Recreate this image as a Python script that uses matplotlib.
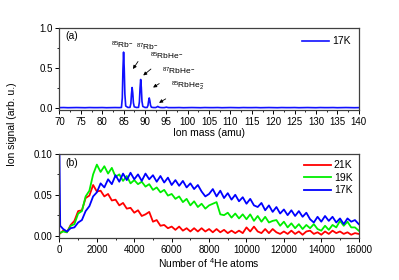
import matplotlib
matplotlib.use("Agg")
import matplotlib.pyplot as plt
import numpy as np

plt.rcParams['font.family'] = ['Liberation Sans', 'DejaVu Sans']
plt.rcParams['mathtext.fontset'] = 'custom'
plt.rcParams['mathtext.rm'] = 'Liberation Sans'
plt.rcParams['mathtext.it'] = 'Liberation Sans'
plt.rcParams['font.size'] = 7

# panel (a): mass spectrum at 17K
mass = [70, 71, 72, 73, 74, 75, 76, 77, 78, 79, 80, 81, 82, 83, 84,
        84.5, 84.7, 84.85, 85, 85.15, 85.3, 85.5, 86,
        86.5, 86.7, 86.85, 87, 87.15, 87.3, 87.5, 88,
        88.5, 88.7, 88.85, 89, 89.15, 89.3, 89.5, 90,
        90.5, 90.7, 90.85, 91, 91.15, 91.3, 91.5, 92,
        92.5, 92.8, 93, 93.2, 93.5, 94,
        94.5, 94.8, 95, 95.2, 95.5, 96,
        97, 98, 99, 100, 101, 102, 103, 104, 105, 106, 107, 108, 109, 110,
        111, 112, 113, 114, 115, 116, 117, 118, 119, 120, 121, 122, 123, 124, 125,
        126, 127, 128, 129, 130, 131, 132, 133, 134, 135, 136, 137, 138, 139, 140]
signal = [0.010, 0.011, 0.009, 0.010, 0.011, 0.010, 0.009, 0.011, 0.010, 0.010, 0.011, 0.009, 0.010, 0.011, 0.010,
          0.012, 0.13, 0.48, 0.70, 0.50, 0.18, 0.03, 0.012,
          0.013, 0.06, 0.18, 0.26, 0.19, 0.07, 0.02, 0.012,
          0.013, 0.08, 0.25, 0.36, 0.26, 0.09, 0.025, 0.012,
          0.012, 0.035, 0.09, 0.13, 0.095, 0.04, 0.015, 0.011,
          0.011, 0.018, 0.025, 0.018, 0.012, 0.010,
          0.010, 0.013, 0.016, 0.013, 0.010, 0.010,
          0.010, 0.011, 0.009, 0.010, 0.011, 0.010, 0.009, 0.011, 0.010, 0.010, 0.011, 0.009, 0.010, 0.011,
          0.010, 0.009, 0.011, 0.010, 0.010, 0.011, 0.009, 0.010, 0.011, 0.010, 0.009, 0.011, 0.010, 0.010, 0.011,
          0.009, 0.010, 0.011, 0.010, 0.009, 0.011, 0.010, 0.010, 0.011, 0.009, 0.010, 0.011, 0.010, 0.009, 0.010]

peak_labels = [r'$^{85}$Rb$^{-}$', r'$^{87}$Rb$^{-}$', r'$^{85}$RbHe$^{-}$',
               r'$^{87}$RbHe$^{-}$', r'$^{85}$RbHe$_2^{-}$']

# panel (b): signal vs number of 4He atoms
atoms = np.arange(0, 16001, 200)
red_21k = [0.002, 0.006, 0.004, 0.013, 0.018, 0.030, 0.031, 0.046, 0.049, 0.062,
           0.054, 0.055, 0.048, 0.051, 0.043, 0.044, 0.037, 0.040, 0.033, 0.034,
           0.028, 0.031, 0.024, 0.026, 0.029, 0.017, 0.019, 0.012, 0.013, 0.009,
           0.011, 0.007, 0.011, 0.006, 0.009, 0.005, 0.009, 0.005, 0.009, 0.005,
           0.008, 0.004, 0.008, 0.004, 0.007, 0.003, 0.006, 0.003, 0.006, 0.003,
           0.010, 0.005, 0.011, 0.005, 0.003, 0.008, 0.003, 0.008, 0.004, 0.002,
           0.005, 0.002, 0.006, 0.002, 0.005, 0.001, 0.005, 0.006, 0.002, 0.004,
           0.001, 0.005, 0.002, 0.006, 0.003, 0.005, 0.002, 0.004, 0.001, 0.003,
           0.002]
green_19k = [0.003, 0.005, 0.004, 0.012, 0.014, 0.027, 0.030, 0.048, 0.055, 0.075,
             0.087, 0.078, 0.085, 0.076, 0.083, 0.072, 0.075, 0.067, 0.073, 0.064,
             0.068, 0.063, 0.066, 0.060, 0.063, 0.056, 0.059, 0.053, 0.056, 0.049,
             0.051, 0.045, 0.048, 0.041, 0.045, 0.037, 0.042, 0.035, 0.039, 0.033,
             0.037, 0.039, 0.041, 0.026, 0.025, 0.028, 0.022, 0.027, 0.021, 0.026,
             0.020, 0.026, 0.018, 0.024, 0.017, 0.023, 0.016, 0.018, 0.019, 0.012,
             0.017, 0.010, 0.015, 0.009, 0.014, 0.008, 0.013, 0.009, 0.014, 0.008,
             0.006, 0.012, 0.007, 0.013, 0.010, 0.018, 0.012, 0.017, 0.010, 0.010,
             0.006]
blue_atoms = np.concatenate([[0, 40], atoms[1:]])
blue_17k = [0.100, 0.012,
            0.008, 0.005, 0.009, 0.010, 0.016, 0.019, 0.030, 0.036, 0.048, 0.053,
            0.064, 0.059, 0.069, 0.063, 0.074, 0.066, 0.076, 0.068, 0.077, 0.069,
            0.075, 0.067, 0.076, 0.069, 0.074, 0.066, 0.073, 0.065, 0.071, 0.062,
            0.068, 0.061, 0.067, 0.059, 0.064, 0.057, 0.062, 0.054, 0.048, 0.051,
            0.057, 0.048, 0.055, 0.046, 0.052, 0.044, 0.050, 0.042, 0.047, 0.039,
            0.045, 0.037, 0.035, 0.040, 0.031, 0.037, 0.029, 0.035, 0.027, 0.032,
            0.025, 0.031, 0.024, 0.030, 0.023, 0.028, 0.020, 0.016, 0.023, 0.017,
            0.024, 0.018, 0.023, 0.016, 0.021, 0.014, 0.021, 0.017, 0.019, 0.014]

fig = plt.figure(figsize=(3.99, 2.8), dpi=100)
ax1 = fig.add_axes([0.149, 0.607, 0.75, 0.293])
ax2 = fig.add_axes([0.149, 0.15, 0.75, 0.30])

for ax in (ax1, ax2):
    for s in ax.spines.values():
        s.set_color('#404040')
        s.set_linewidth(0.9)
    ax.tick_params(which='major', length=3, width=0.7, pad=2, labelsize=7)
    ax.tick_params(which='minor', length=1.5, width=0.6)

# (a)
ax1.plot(mass, signal, color='#1010ff', lw=1.2, label='17K')
ax1.set_xlim(70, 140)
ax1.set_ylim(-0.02, 1.0)
ax1.set_xticks(np.arange(70, 141, 5))
ax1.set_xticks(np.arange(72.5, 140, 5), minor=True)
ax1.set_yticks([0.0, 0.5, 1.0])
ax1.set_yticks([0.25, 0.75], minor=True)
ax1.yaxis.set_major_formatter(matplotlib.ticker.FormatStrFormatter('%.1f'))
ax1.set_xlabel('Ion mass (amu)', fontsize=7.5, labelpad=1)
ax1.text(71.5, 0.9, '(a)', fontsize=7.5, va='center')

arrow = dict(arrowstyle='-|>', color='black', lw=0.6, mutation_scale=5, shrinkA=5, shrinkB=0)
ax1.text(84.7, 0.79, peak_labels[0], ha='center', va='center', fontsize=6)
ax1.annotate(peak_labels[1], xy=(87.2, 0.49), xytext=(90.6, 0.76), ha='center', va='center',
             fontsize=6, arrowprops=arrow)
ax1.annotate(peak_labels[2], xy=(89.6, 0.41), xytext=(95.0, 0.65), ha='center', va='center',
             fontsize=6, arrowprops=arrow)
ax1.annotate(peak_labels[3], xy=(91.9, 0.26), xytext=(97.8, 0.46), ha='center', va='center',
             fontsize=6, arrowprops=arrow)
ax1.annotate(peak_labels[4], xy=(93.3, 0.07), xytext=(100.0, 0.28), ha='center', va='center',
             fontsize=6, arrowprops=arrow)
ax1.legend(loc='upper right', frameon=False, fontsize=7.5, handlelength=2.6, handletextpad=0.3,
           borderaxespad=0.4)

# (b)
ax2.plot(atoms, red_21k, color='#ff0000', lw=1.3, label='21K')
ax2.plot(atoms, green_19k, color='#00ee00', lw=1.3, label='19K')
ax2.plot(blue_atoms, blue_17k, color='#0000ff', lw=1.3, label='17K')
ax2.set_xlim(0, 16000)
ax2.set_ylim(-0.003, 0.1)
ax2.set_xticks(np.arange(0, 16001, 2000))
ax2.set_xticks(np.arange(1000, 16000, 2000), minor=True)
ax2.set_yticks([0.0, 0.05, 0.10])
ax2.set_yticks([0.025, 0.075], minor=True)
ax2.yaxis.set_major_formatter(matplotlib.ticker.FormatStrFormatter('%.2f'))
ax2.set_xlabel(r'Number of $^{4}$He atoms', fontsize=7.5, labelpad=1)
ax2.text(300, 0.089, '(b)', fontsize=7.5, va='center')
ax2.legend(loc='upper right', frameon=False, fontsize=7.5, handlelength=2.6, handletextpad=0.3,
           borderaxespad=0.2, labelspacing=0.25)

fig.text(0.03, 0.557, 'Ion signal (arb. u.)', rotation=90, ha='center', va='center', fontsize=7.5)

plt.savefig('out.png', dpi=100)
